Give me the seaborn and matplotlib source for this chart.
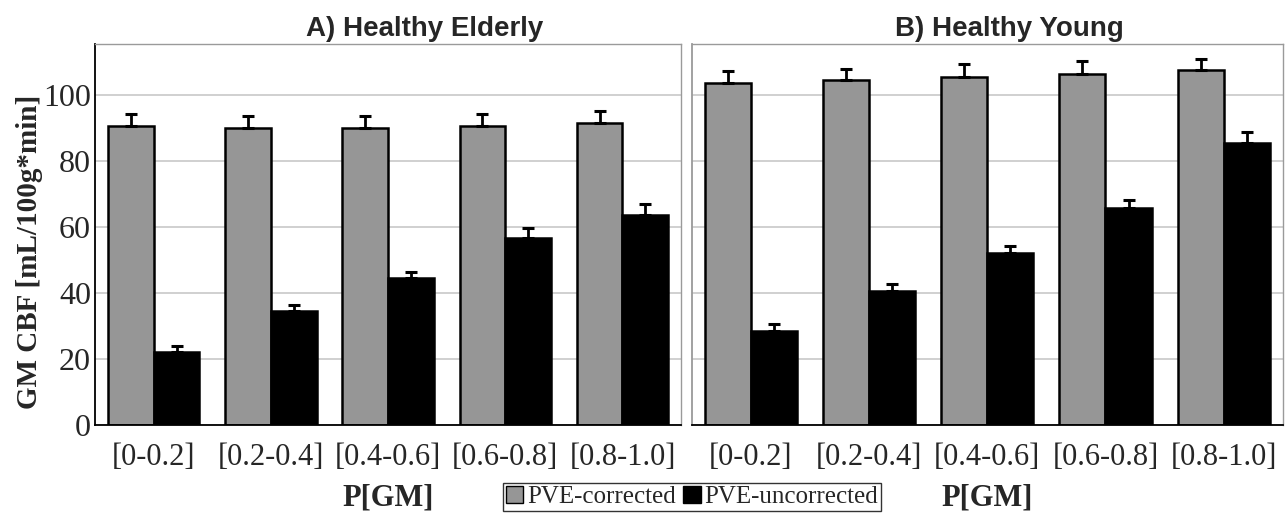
import matplotlib
matplotlib.use("Agg")
import matplotlib.pyplot as plt
import numpy as np
import pandas as pd
import seaborn as sns
from matplotlib.patches import Patch

# data
bins = ["[0-0.2]", "[0.2-0.4]", "[0.4-0.6]", "[0.6-0.8]", "[0.8-1.0]"]
series = ["PVE-corrected", "PVE-uncorrected"]

elderly_corr = [90.5, 90.0, 90.0, 90.5, 91.5]
elderly_corr_err = [3.8, 3.8, 3.8, 3.8, 3.8]
elderly_unc = [22.3, 34.5, 44.5, 56.7, 63.6]
elderly_unc_err = [1.6, 2.0, 2.0, 3.0, 3.3]

young_corr = [103.6, 104.5, 105.5, 106.5, 107.5]
young_corr_err = [3.8, 3.5, 3.8, 3.8, 3.5]
young_unc = [28.6, 40.7, 52.3, 65.8, 85.5]
young_unc_err = [2.0, 2.0, 2.0, 2.5, 3.2]

titles = ["A) Healthy Elderly", "B) Healthy Young"]
colors = {"PVE-corrected": "#969696", "PVE-uncorrected": "#000000"}


def make_frame(corr, corr_err, unc, unc_err):
    return pd.DataFrame({
        "bin": bins * 2,
        "series": [series[0]] * len(bins) + [series[1]] * len(bins),
        "value": corr + unc,
        "err": corr_err + unc_err,
    })


panels = [
    make_frame(elderly_corr, elderly_corr_err, elderly_unc, elderly_unc_err),
    make_frame(young_corr, young_corr_err, young_unc, young_unc_err),
]

sns.set_theme(style="white")
plt.rcParams["font.family"] = ["Liberation Serif", "DejaVu Serif"]

fig = plt.figure(figsize=(12.88, 5.16), dpi=100)
ax_pos = [[0.0738, 0.176, 0.455, 0.739], [0.537, 0.176, 0.459, 0.739]]
title_x = [0.563, 0.538]

for i, df in enumerate(panels):
    ax = fig.add_axes(ax_pos[i])
    sns.barplot(
        data=df, x="bin", y="value", hue="series", order=bins, hue_order=series,
        palette=colors, errorbar=None, width=0.78, edgecolor="black", linewidth=1.8,
        legend=False, ax=ax,
    )
    # one-sided error bars on top of each bar
    for cont, name in zip(ax.containers, series):
        sub = df[df["series"] == name].set_index("bin").loc[bins]
        xs = [b.get_x() + b.get_width() / 2 for b in cont]
        ax.errorbar(xs, sub["value"], yerr=[np.zeros(len(xs)), sub["err"]],
                    fmt="none", ecolor="black", elinewidth=2, capsize=4.5, capthick=2.2, zorder=1)

    ax.set_ylim(0, 115.5)
    ax.set_xlim(-0.5, len(bins) - 0.5)
    ax.set_yticks([0, 20, 40, 60, 80, 100])
    ax.yaxis.grid(True, color="#c8c8c8", linewidth=1.2)
    ax.set_axisbelow(True)
    for s in ["top", "right"]:
        ax.spines[s].set_color("#9a9a9a")
        ax.spines[s].set_linewidth(1.0)
    for s in ["left", "bottom"]:
        ax.spines[s].set_color("black")
        ax.spines[s].set_linewidth(1.3)
    if i == 1:
        ax.spines["left"].set_color("#9a9a9a")
        ax.set_yticklabels([])
        ax.tick_params(axis="y", length=0)
        ax.set_ylabel("")
    else:
        ax.set_ylabel("GM CBF [mL/100g*min]", fontsize=21, fontweight="bold")
        ax.yaxis.set_label_coords(-0.088, 0.455)
        ax.tick_params(axis="y", labelsize=23, length=0, pad=3)

    # boundary ticks between categories
    ax.set_xticks(np.arange(-0.5, len(bins)), minor=True)
    ax.tick_params(axis="x", which="minor", length=10, width=1.3, color="black", direction="out")
    ax.tick_params(axis="x", which="major", length=0, labelsize=22, pad=13)
    ax.set_xlabel("P[GM]", fontsize=22, fontweight="bold", labelpad=8)
    ax.set_title(titles[i], fontsize=20, fontweight="bold", x=title_x[i], pad=6,
                 family=["Liberation Sans", "DejaVu Sans"])

handles = [Patch(facecolor=colors[s], edgecolor="black", label=s) for s in series]
fig.legend(handles=handles, loc="center", bbox_to_anchor=(692 / 1288, 1 - 497 / 516),
           ncol=2, frameon=True, fontsize=18, handlelength=0.7, handleheight=0.7,
           handletextpad=0.15, columnspacing=0.3, borderpad=0.1, fancybox=False,
           edgecolor="black")

fig.savefig("out.png", dpi=100)
